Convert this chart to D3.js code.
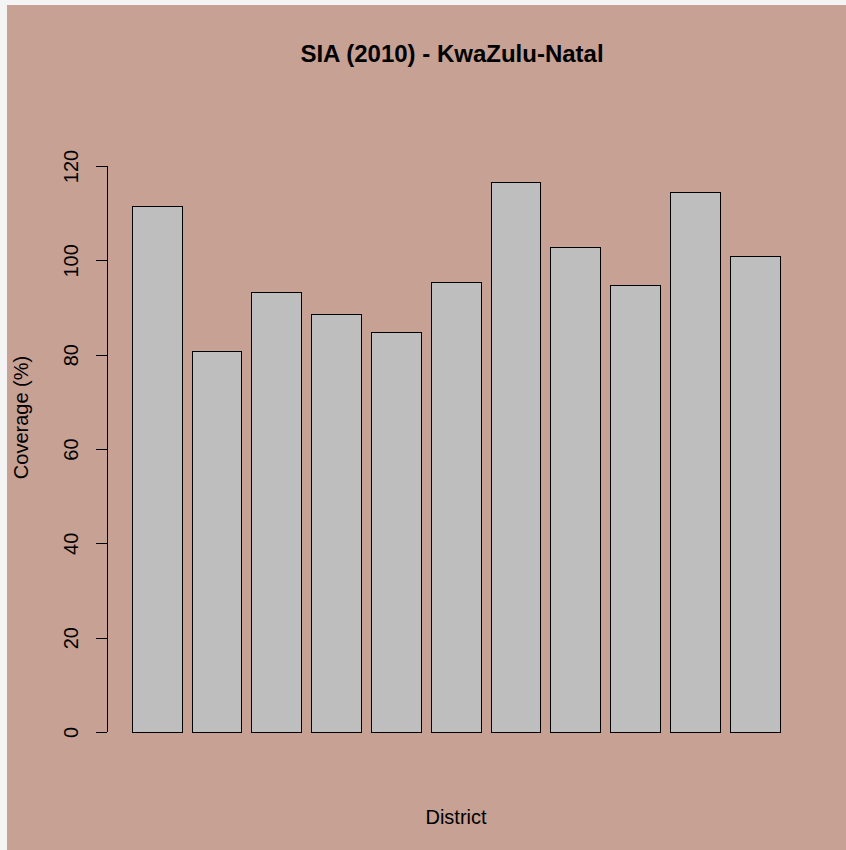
<!DOCTYPE html>
<html>
<head>
<meta charset="utf-8">
<script src="https://cdnjs.cloudflare.com/ajax/libs/d3/7.8.5/d3.min.js"></script>
<style>
  html, body { margin: 0; padding: 0; background: #f4f4f4; }
  svg { display: block; }
  text { font-family: "Liberation Sans", Arial, sans-serif; fill: #000; }
</style>
</head>
<body>
<script>
const districts = ["D1","D2","D3","D4","D5","D6","D7","D8","D9","D10","D11"];
const coverage = [111.4, 80.6, 93.2, 88.5, 84.8, 95.3, 116.5, 102.8, 94.6, 114.4, 100.8];
const yTicks = [0, 20, 40, 60, 80, 100, 120];
const titleText = "SIA (2010) - KwaZulu-Natal";
const xLabel = "District";
const yLabel = "Coverage (%)";

const W = 846, H = 850;
const svg = d3.select("body").append("svg").attr("width", W).attr("height", H);

svg.append("rect").attr("x", 7).attr("y", 5).attr("width", W - 7).attr("height", H - 5)
  .attr("fill", "#c6a194");

// R barplot geometry: width 1, space 0.2
const x = d3.scaleLinear().domain([0.2, 13.2]).range([132.3, 780]);
const y = d3.scaleLinear().domain([0, 120]).range([732, 166]);

svg.append("g").selectAll("rect").data(coverage).join("rect")
  .attr("x", (d, i) => x(0.2 + 1.2 * i))
  .attr("width", (d, i) => x(1.2 + 1.2 * i) - x(0.2 + 1.2 * i))
  .attr("y", d => y(d))
  .attr("height", d => y(0) - y(d))
  .attr("fill", "#bebebe")
  .attr("stroke", "#000")
  .attr("stroke-width", 1)
  .attr("shape-rendering", "crispEdges");

const axis = d3.axisLeft(y).tickValues(yTicks).tickSize(11).tickPadding(0).tickFormat(d3.format("d"));
const gAx = svg.append("g").attr("transform", "translate(107,0)").call(axis);
gAx.select(".domain").attr("d", `M0,${y(0)}V${y(120)}`).attr("stroke", "#000").attr("shape-rendering", "crispEdges");
gAx.selectAll(".tick line").attr("stroke", "#000").attr("shape-rendering", "crispEdges");
gAx.selectAll(".tick text")
  .attr("x", null).attr("dy", null)
  .attr("transform", "translate(-29,0) rotate(-90)")
  .attr("text-anchor", "middle")
  .attr("font-size", 20)
  .attr("font-family", "Liberation Sans, Arial, sans-serif")
  .attr("fill", "#000");

svg.append("text").attr("x", 452).attr("y", 62)
  .attr("text-anchor", "middle").attr("font-size", 24).attr("font-weight", "bold")
  .text(titleText);

svg.append("text").attr("x", 456).attr("y", 823.5)
  .attr("text-anchor", "middle").attr("font-size", 20)
  .text(xLabel);

svg.append("text").attr("transform", "translate(27.5,417.5) rotate(-90)")
  .attr("text-anchor", "middle").attr("font-size", 20)
  .text(yLabel);
</script>
</body>
</html>
